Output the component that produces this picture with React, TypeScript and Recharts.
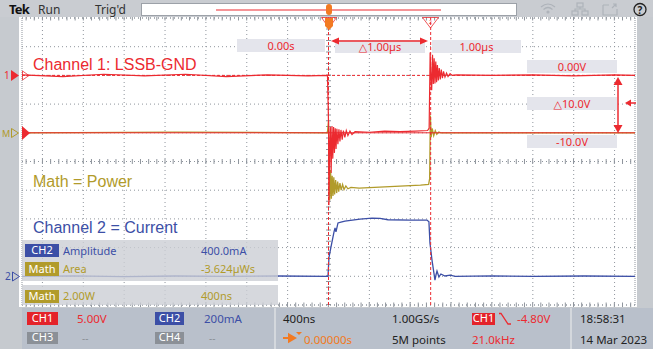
import { CartesianGrid, Line, LineChart, ReferenceLine, XAxis, YAxis } from "recharts";

const RED = "#ec2a30";
const OLIVE = "#b19b2b";
const BLUE = "#3c4fa6";
const ORANGE = "#f27a22";
const UI = "'Noto Sans', 'Open Sans', 'DejaVu Sans', sans-serif";
const NOTE = "'Liberation Sans', Arial, sans-serif";

// 400 ns/div, trigger in the middle -> ±3 µs over 15 divisions
const timeTicks = [-2.8, -2.4, -2.0, -1.6, -1.2, -0.8, -0.4, 0, 0.4, 0.8, 1.2, 1.6, 2.0, 2.4, 2.8];
// CH1 5 V/div, 0 V three divisions above centre
const voltTicks = [-40, -35, -30, -25, -20, -15, -10, -5, 0, 5, 10];

// [µs, V]
const ch1 = [
  [-3.0, 0.1], [-2.6, -0.2], [-2.2, 0.2], [-1.8, -0.1], [-1.4, 0.2], [-1.0, -0.2], [-0.6, 0.1], [-0.2, -0.1], [-0.01, 0],
  [0.0, -8], [0.004, -22.6], [0.012, -12], [0.018, -9.0], [0.026, -17], [0.034, -8.8], [0.042, -14.5], [0.05, -9.0],
  [0.058, -13.5], [0.066, -9.2], [0.074, -12.8], [0.082, -9.3], [0.092, -12], [0.102, -9.4], [0.112, -11.5],
  [0.122, -9.5], [0.134, -11.2], [0.146, -9.6], [0.16, -10.8], [0.174, -9.6], [0.19, -10.5], [0.21, -9.7],
  [0.23, -10.3], [0.26, -9.8], [0.4, -9.9], [0.55, -9.7], [0.7, -9.8], [0.85, -9.7], [0.97, -9.6], [0.985, -9.2],
  [0.995, 4.0], [1.004, -1.0], [1.01, -2.6], [1.018, 3.6], [1.026, -1.5], [1.034, 3.0], [1.042, -1.4], [1.05, 2.4],
  [1.058, -1.2], [1.066, 1.8], [1.075, -0.9], [1.084, 1.3], [1.094, -0.7], [1.104, 1.0], [1.115, -0.5], [1.126, 0.7],
  [1.14, -0.3], [1.155, 0.4], [1.17, -0.2], [1.19, 0.3], [1.21, 0], [1.25, 0.1], [1.6, 0], [2.0, 0.1], [2.4, -0.1],
  [2.8, 0.1], [3.0, 0],
];

// [µs, W]
const power = [
  [-3, 0], [-1.5, 0.05], [-0.01, 0], [0.0, 0.8], [0.006, -2.2], [0.012, -4.7], [0.02, -2.6], [0.028, -4.6],
  [0.036, -3.0], [0.044, -4.4], [0.052, -3.1], [0.06, -4.3], [0.07, -3.3], [0.08, -4.2], [0.09, -3.4], [0.1, -4.1],
  [0.112, -3.5], [0.124, -4.0], [0.138, -3.6], [0.152, -3.95], [0.17, -3.7], [0.19, -3.9], [0.22, -3.8], [0.3, -3.85],
  [0.45, -3.8], [0.6, -3.75], [0.75, -3.7], [0.9, -3.65], [0.98, -3.6], [0.99, -3.2], [0.997, 1.2], [1.005, -0.3],
  [1.015, 0.3], [1.03, -0.2], [1.045, 0.15], [1.06, -0.1], [1.08, 0.05], [1.1, 0], [2, 0], [3, 0],
];

// [µs, mA]
const ch2 = [
  [-3, 0], [-2.5, 3], [-2, -2], [-1.5, 2], [-1, -1], [-0.5, 2], [-0.005, 0], [0.005, 134], [0.024, 204],
  [0.054, 309], [0.064, 337], [0.073, 309], [0.093, 372], [0.122, 378], [0.161, 385], [0.308, 399], [0.426, 406],
  [0.504, 404], [0.582, 394], [0.797, 392], [0.964, 392], [0.983, 380], [0.993, 232], [1.013, 113], [1.032, 22],
  [1.042, -26], [1.052, 9], [1.062, 37], [1.081, -5], [1.1, 16], [1.14, 2], [1.19, 8], [1.24, 0], [1.6, 3],
  [2.0, 0], [2.5, 2], [3, 0],
];

const timeCursors = [0, 1];
const voltCursors = [0, -10];

const rows = (pts: number[][]) => pts.map(([t, v]) => ({ t, v }));

function Badge({ x, y, w, h, fill, label }: { x: number; y: number; w: number; h: number; fill: string; label: string }) {
  return (
    <g>
      <rect x={x} y={y} width={w} height={h} fill={fill} />
      <text x={x + w / 2} y={y + h - 3} textAnchor="middle" fill="#fff" fontSize={11}>
        {label}
      </text>
    </g>
  );
}

function ReadBox({ x, y, w, label }: { x: number; y: number; w: number; label: string }) {
  return (
    <g>
      <rect x={x} y={y} width={w} height={13} fill="#e4e5ec" />
      <text x={x + w / 2} y={y + 10.5} textAnchor="middle" fill={RED} fontSize={11}>
        {label}
      </text>
    </g>
  );
}

export default function App() {
  const gridStroke = "#8f959d";
  return (
    <div style={{ position: "absolute", left: 0, top: 0, width: 653, height: 349, background: "#c6cacf", overflow: "hidden" }}>
      <div style={{ position: "absolute", left: 19, top: 17, width: 618, height: 290, background: "#fff" }} />
      <div style={{ position: "absolute", left: 0, top: 0 }}>
        <LineChart width={653} height={349} margin={{ top: 18, right: 18, bottom: 44, left: 22 }}>
          <XAxis type="number" dataKey="t" domain={[-3, 3]} ticks={timeTicks} hide allowDataOverflow />
          <YAxis yAxisId="ch1" type="number" domain={[-40, 10]} ticks={voltTicks} hide allowDataOverflow />
          <YAxis yAxisId="math" type="number" domain={[-12, 8]} hide allowDataOverflow />
          <YAxis yAxisId="ch2" type="number" domain={[-200, 1800]} hide allowDataOverflow />
          <CartesianGrid yAxisId="ch1" stroke={gridStroke} strokeDasharray="1 3" />
          {/* frame and centre lines with minor ticks */}
          <ReferenceLine yAxisId="ch1" y={10} stroke={gridStroke} strokeDasharray="1 3" ifOverflow="visible" />
          <ReferenceLine yAxisId="ch1" y={-40} stroke={gridStroke} strokeDasharray="1 3" ifOverflow="visible" />
          <ReferenceLine yAxisId="ch1" x={-3} stroke={gridStroke} strokeDasharray="1 3" ifOverflow="visible" />
          <ReferenceLine yAxisId="ch1" x={3} stroke={gridStroke} strokeDasharray="1 3" ifOverflow="visible" />
          <ReferenceLine yAxisId="ch1" y={-15} stroke={gridStroke} strokeWidth={5} strokeDasharray="1 7.17" strokeDashoffset={-3.6} />
          <ReferenceLine yAxisId="ch1" y={-40} stroke={gridStroke} strokeWidth={5} strokeDasharray="1 7.17" strokeDashoffset={-3.6} ifOverflow="visible" />
          <ReferenceLine yAxisId="ch1" y={10} stroke={gridStroke} strokeWidth={5} strokeDasharray="1 7.17" strokeDashoffset={-3.6} ifOverflow="visible" />
          <ReferenceLine yAxisId="ch1" x={0} stroke={gridStroke} strokeWidth={5} strokeDasharray="1 4.74" />

          <Line yAxisId="math" data={rows(power)} dataKey="v" type="linear" stroke={OLIVE} strokeWidth={1.3} dot={false} isAnimationActive={false} />
          <Line yAxisId="ch2" data={rows(ch2)} dataKey="v" type="linear" stroke={BLUE} strokeWidth={1.3} dot={false} isAnimationActive={false} />
          <Line yAxisId="ch1" data={rows(ch1)} dataKey="v" type="linear" stroke={RED} strokeWidth={1.2} dot={false} isAnimationActive={false} />

          {timeCursors.map((t) => (
            <ReferenceLine key={`t${t}`} yAxisId="ch1" x={t} stroke={RED} strokeWidth={1} strokeDasharray="3 2" />
          ))}
          {voltCursors.map((v, i) => (
            <ReferenceLine key={`v${v}`} yAxisId="ch1" y={v} stroke={RED} strokeWidth={1} strokeDasharray={i === 0 ? "3 2" : undefined} />
          ))}
        </LineChart>
      </div>

      <svg width={653} height={349} style={{ position: "absolute", left: 0, top: 0, pointerEvents: "none", fontFamily: UI }}>
        {/* top status bar */}
        <rect x={0} y={0} width={653} height={17} fill="#c9ccd1" />
        <text x={9} y={14} fontSize={13} fontWeight={700} fill="#111" letterSpacing={-0.8}>Tek</text>
        <text x={38} y={14} fontSize={12} fill="#333">Run</text>
        <text x={95} y={14} fontSize={12} fill="#333">Trig'd</text>
        <rect x={141.5} y={3.5} width={375} height={12} fill="#fff" stroke="#9ca1a8" />
        <line x1={216} x2={441} y1={10} y2={10} stroke={RED} strokeWidth={1.2} />
        <rect x={326} y={4} width={6} height={11} rx={3} fill={ORANGE} />
        <g stroke="#aeb3ba" strokeWidth={1.2} fill="none">
          <path d="M541 7 Q548 1 555 7 M543.5 9.5 Q548 5.5 552.5 9.5" />
          <circle cx={548} cy={12} r={1} fill="#aeb3ba" />
          <rect x={577} y={3} width={6} height={4} />
          <rect x={572} y={11} width={6} height={4} />
          <rect x={582} y={11} width={6} height={4} />
          <path d="M580 7 V9 M575 11 V9 H585 V11" />
          <path d="M603 5 H609 M603 5 V15 H617 V9" />
          <path d="M612 8 L616 4 M613 4 H616 V7" />
        </g>
        <circle cx={640} cy={9.5} r={6} fill="none" stroke="#222" strokeWidth={1.3} />
        <text x={640} y={13.5} textAnchor="middle" fontSize={10} fontWeight={700} fill="#222">?</text>

        {/* side strips */}
        <rect x={0} y={17} width={19} height={290} fill="#c6cacf" />
        <rect x={637} y={17} width={16} height={290} fill="#c6cacf" />

        {/* channel level markers */}
        <text x={4} y={79} fill={RED} fontSize={10}>1</text>
        <path d="M11 70 L19 75.5 L11 81 Z" fill={RED} />
        <path d="M22.5 71 L29 75.5 L22.5 80 Z" fill="none" stroke={RED} strokeWidth={0.8} />
        <text x={2} y={137} fill={OLIVE} fontSize={9}>M</text>
        <path d="M11.5 128.5 L18.5 133 L11.5 137.5 Z" fill="none" stroke={OLIVE} strokeWidth={1} />
        <path d="M22 126 L30 133 L22 140 Z" fill={RED} />
        <text x={5} y={280} fill={BLUE} fontSize={10}>2</text>
        <path d="M12.5 272 L19.5 276.5 L12.5 281 Z" fill="none" stroke={BLUE} strokeWidth={1} />

        {/* trigger and cursor flags */}
        <path d="M321.5 17.5 H336.5 L329 28 Z" fill="none" stroke={RED} strokeWidth={0.8} />
        <path d="M325 18 H333 V26 L329 30 L325 26 Z" fill={ORANGE} />
        <path d="M422.5 17.5 H438.5 L430.5 28 Z" fill="none" stroke={RED} strokeWidth={0.8} />
        <text x={430.5} y={24} textAnchor="middle" fontSize={5} fill={RED}>2</text>

        {/* time cursor readouts */}
        <ReadBox x={237} y={39} w={88} label="0.00s" />
        <ReadBox x={335} y={40} w={90} label="△1.00µs" />
        <ReadBox x={432} y={40} w={89} label="1.00µs" />
        <line x1={333} x2={426} y1={41} y2={41} stroke={RED} strokeWidth={1.5} />
        <path d="M331 41 L339 37.5 L339 44.5 Z" fill={RED} />
        <path d="M428 41 L420 37.5 L420 44.5 Z" fill={RED} />

        {/* voltage cursor readouts */}
        <ReadBox x={527} y={60} w={90} label="0.00V" />
        <ReadBox x={527} y={97} w={90} label="△10.0V" />
        <ReadBox x={527} y={135} w={90} label="-10.0V" />
        <line x1={618} x2={618} y1={82} y2={128} stroke={RED} strokeWidth={1.5} />
        <path d="M618 77 L613.5 85 L622.5 85 Z" fill={RED} />
        <path d="M618 133 L613.5 125 L622.5 125 Z" fill={RED} />
        <path d="M625 103 L631 99.5 L631 106.5 Z" fill={RED} />
        <line x1={630} x2={636} y1={103} y2={103} stroke={RED} strokeWidth={1.5} />

        {/* annotations */}
        <text x={33} y={70} fontFamily={NOTE} fontSize={16} fill={RED}>Channel 1: LSSB-GND</text>
        <text x={33} y={187} fontFamily={NOTE} fontSize={16} fill={OLIVE}>Math = Power</text>
        <text x={33} y={233} fontFamily={NOTE} fontSize={16} fill={BLUE}>Channel 2 = Current</text>

        {/* measurement panel */}
        <rect x={22} y={240} width={256} height={41} fill="rgba(204,206,212,0.8)" />
        <rect x={22} y={285} width={256} height={20} fill="rgba(204,206,212,0.8)" />
        <Badge x={25} y={244} w={34} h={13} fill={BLUE} label="CH2" />
        <text x={63} y={255} fontSize={11} fill={BLUE}>Amplitude</text>
        <text x={201} y={255} fontSize={11} fill={BLUE}>400.0mA</text>
        <Badge x={25} y={262} w={34} h={14} fill={OLIVE} label="Math" />
        <text x={63} y={273} fontSize={11} fill={OLIVE}>Area</text>
        <text x={201} y={273} fontSize={11} fill={OLIVE}>-3.624µWs</text>
        <Badge x={25} y={290} w={34} h={13} fill={OLIVE} label="Math" />
        <text x={63} y={300} fontSize={11} fill={OLIVE}>2.00W</text>
        <text x={201} y={300} fontSize={11} fill={OLIVE}>400ns</text>

        {/* bottom settings bar */}
        <rect x={0} y={307} width={653} height={42} fill="#c6cacf" />
        <rect x={22} y={308} width={631} height={41} fill="#b9c0cb" />
        <line x1={275} x2={275} y1={308} y2={349} stroke="#d4d8dd" strokeWidth={2} />
        <line x1={571} x2={571} y1={308} y2={349} stroke="#d4d8dd" strokeWidth={2} />
        <Badge x={27} y={312} w={31} h={13} fill="#e4232a" label="CH1" />
        <text x={77} y={323} fontSize={11.5} fill={RED}>5.00V</text>
        <Badge x={155} y={312} w={29} h={13} fill={BLUE} label="CH2" />
        <text x={204} y={323} fontSize={11.5} fill={BLUE}>200mA</text>
        <Badge x={27} y={332} w={31} h={12} fill="#8b9097" label="CH3" />
        <text x={82} y={342} fontSize={10} fill="#8b9097">--</text>
        <Badge x={155} y={332} w={29} h={12} fill="#8b9097" label="CH4" />
        <text x={209} y={342} fontSize={10} fill="#8b9097">--</text>

        <text x={283} y={323} fontSize={11.5} fill="#222">400ns</text>
        <path d="M283 338 H292 M289 334.5 L295 338 L289 341.5 Z" stroke={ORANGE} strokeWidth={2} fill={ORANGE} />
        <path d="M296 332 L299 335 L302 332 Z" fill={ORANGE} />
        <text x={304} y={344} fontSize={11.5} fill={ORANGE}>0.00000s</text>
        <text x={392} y={323} fontSize={11.5} fill="#222">1.00GS/s</text>
        <text x={392} y={344} fontSize={11.5} fill="#222">5M points</text>
        <Badge x={472} y={313} w={23} h={12} fill="#e4232a" label="CH1" />
        <path d="M499 313.5 H501 L508 324 H511" fill="none" stroke={RED} strokeWidth={1.3} />
        <text x={517} y={323} fontSize={11.5} fill={RED}>-4.80V</text>
        <text x={472} y={344} fontSize={11.5} fill={RED}>21.0kHz</text>
        <text x={580} y={323} fontSize={11.5} fill="#222">18:58:31</text>
        <text x={580} y={344} fontSize={11.5} fill="#222">14 Mar 2023</text>
      </svg>
    </div>
  );
}
